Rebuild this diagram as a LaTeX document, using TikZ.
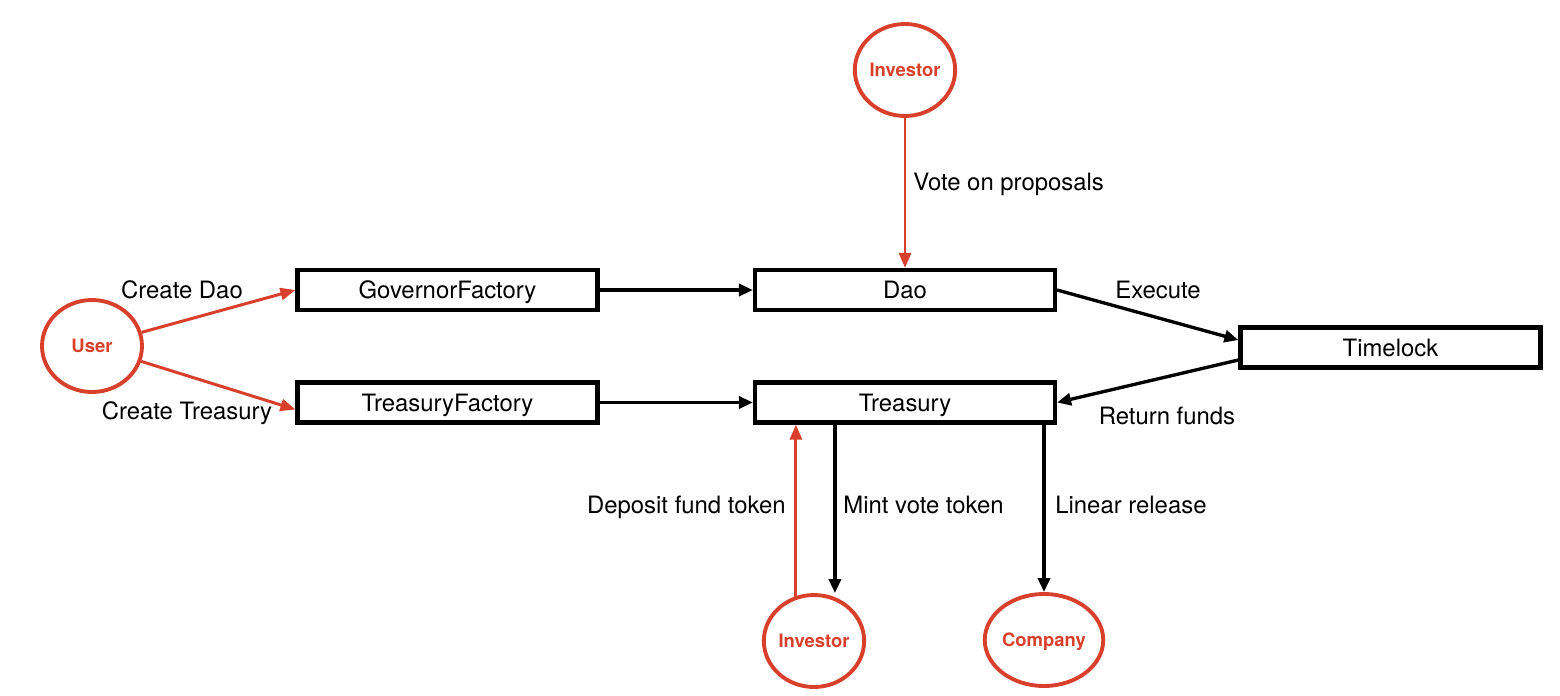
\documentclass[tikz,border=0pt]{standalone}
\usepackage{fontspec}
\setmainfont{TeX Gyre Heros}
\usetikzlibrary{arrows.meta,positioning,shapes,calc}
\definecolor{actorred}{RGB}{217,64,43}

\begin{document}
\begin{tikzpicture}[x=0.02cm, y=-0.02cm,
  box node/.style={rectangle,draw=black,line width=2.4pt,minimum width=6.0cm,minimum height=0.8cm,inner sep=0pt,text height=9.8pt,text depth=0pt,font=\fontsize{13.6}{16}\selectfont},
  actor node/.style={ellipse,draw=actorred,line width=2.2pt,minimum width=2.0cm,minimum height=1.84cm,inner sep=0pt,text height=7.6pt,text depth=0pt,text=actorred,font=\fontsize{10.5}{12}\selectfont\bfseries},
  flow/.style={draw=black,line width=1.9pt,-{Triangle[length=0.28cm,width=0.24cm]}},
  user flow/.style={draw=actorred,line width=1.7pt,-{Triangle[length=0.3cm,width=0.24cm]}},
  lbl/.style={inner sep=0pt,font=\fontsize{13.6}{16}\selectfont}]
\useasboundingbox (0,0) rectangle (1560,696);
% actors
\node[actor node] (user) at (92,346) {User};
\node[actor node] (inv1) at (905,70) {Investor};
\node[actor node] (inv2) at (814,641) {Investor};
\node[actor node] (comp) at (1044,640) {Company};
% contracts
\node[box node] (gf) at (447.5,290) {GovernorFactory};
\node[box node] (dao) at (905,290) {Dao};
\node[box node] (tl) at (1390.5,347.5) {Timelock};
\node[box node] (tf) at (447.5,402.5) {TreasuryFactory};
\node[box node] (tr) at (905,402.5) {Treasury};
\coordinate (dep) at ($(tr.south west)+(43,0)$);
\coordinate (mint) at ($(tr.south west)+(82,0)$);
% connectors
\draw[user flow] (user) -- (gf.west);
\draw[user flow] (user) -- ([yshift=-0.14cm]tf.west);
\draw[user flow] (inv1) -- (dao);
\draw[flow] (gf) -- (dao);
\draw[flow] (tf) -- (tr);
\draw[flow] (dao.east) -- ([yshift=0.15cm]tl.west);
\draw[flow] ([yshift=-0.25cm]tl.west) -- (tr.east);
\draw[user flow] ($(dep |- inv2.north)+(0,4)$) -- (dep);
\draw[flow] (mint) -- (mint |- inv2.north);
\draw[flow] (tr.south -| comp.north) -- (comp.north);
% labels
\node[lbl] (lcd) at (182,290) {Create Dao};
\node[lbl] (lct) at (187,413) {Create Treasury};
\node[lbl,anchor=west] (lvote) at (913,184) {Vote on proposals};
\node[lbl] (lexe) at (1158,290) {Execute};
\node[lbl] (lret) at (1167,416) {Return funds};
\node[lbl,anchor=east] (ldep) at (786,507) {Deposit fund token};
\node[lbl,anchor=west] (lmint) at (843,505) {Mint vote token};
\node[lbl,anchor=west] (llin) at (1055,505) {Linear release};
\end{tikzpicture}
\end{document}
